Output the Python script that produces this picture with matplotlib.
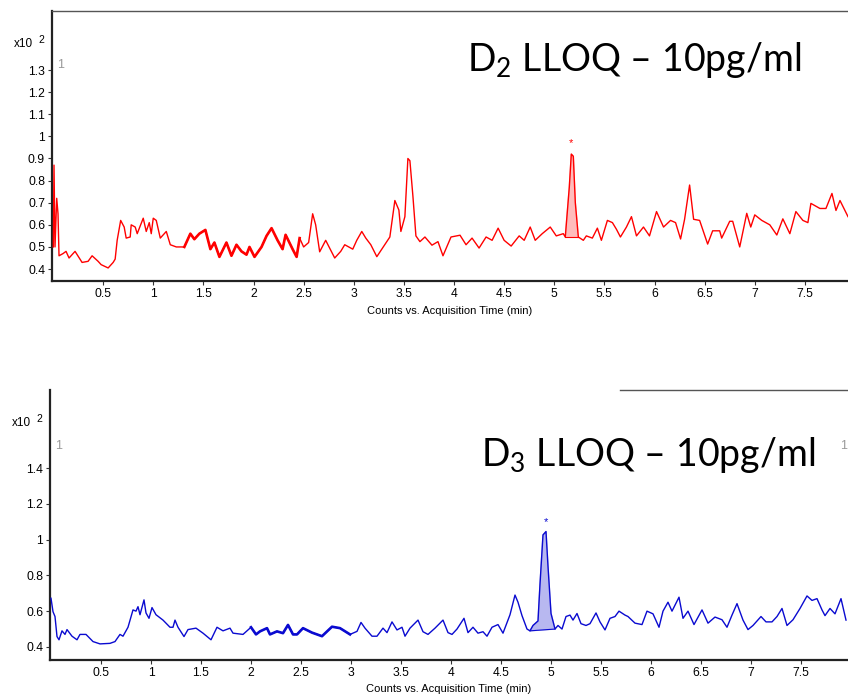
import numpy as np
import matplotlib
matplotlib.use("Agg")
import matplotlib.pyplot as plt
from matplotlib.ticker import FuncFormatter, FixedLocator

plt.rcParams['font.family'] = ['Liberation Sans', 'DejaVu Sans']
plt.rcParams['mathtext.fontset'] = 'custom'
plt.rcParams['mathtext.rm'] = 'Lato'

# D2 trace (counts x10^2 vs minutes)
t_d2 = [0.003, 0.01, 0.02, 0.037, 0.05, 0.06, 0.10, 0.13, 0.16, 0.22, 0.29, 0.35, 0.39, 0.45,
        0.48, 0.55, 0.60, 0.62, 0.64, 0.675, 0.71, 0.73, 0.77, 0.78, 0.82, 0.84, 0.90, 0.93,
        0.96, 0.98, 1.00, 1.03, 1.07, 1.13, 1.17, 1.23, 1.31, 1.37, 1.41, 1.46, 1.52, 1.57,
        1.61, 1.66, 1.73, 1.78, 1.83, 1.88, 1.93, 1.96, 2.01, 2.08, 2.13, 2.18, 2.24, 2.29,
        2.32, 2.39, 2.43, 2.46, 2.50, 2.55, 2.59, 2.62, 2.66, 2.72, 2.81, 2.87, 2.91, 2.99,
        3.03, 3.08, 3.12, 3.17, 3.23, 3.28, 3.33, 3.36, 3.41, 3.45, 3.47, 3.51, 3.54, 3.56,
        3.59, 3.62, 3.66, 3.71, 3.78, 3.84, 3.89, 3.97, 4.06, 4.12, 4.18, 4.25, 4.32, 4.38,
        4.44, 4.50, 4.57, 4.65, 4.70, 4.76, 4.81, 4.88, 4.96, 5.02, 5.09, 5.11, 5.15, 5.17,
        5.19, 5.21, 5.24, 5.29, 5.32, 5.38, 5.43, 5.47, 5.53, 5.58, 5.62, 5.66, 5.72, 5.77,
        5.82, 5.89, 5.95, 6.02, 6.09, 6.16, 6.21, 6.26, 6.30, 6.35, 6.39, 6.45, 6.53, 6.58,
        6.65, 6.67, 6.75, 6.78, 6.85, 6.92, 6.96, 7.00, 7.07, 7.15, 7.22, 7.28, 7.35, 7.41,
        7.48, 7.53, 7.56, 7.65, 7.71, 7.77, 7.81, 7.85, 7.93]
y_d2 = [0.50, 0.87, 0.50, 0.72, 0.65, 0.46, 0.47, 0.48, 0.45, 0.48, 0.43, 0.435, 0.46, 0.435,
        0.42, 0.405, 0.43, 0.445, 0.53, 0.62, 0.59, 0.54, 0.545, 0.60, 0.59, 0.56, 0.63, 0.57,
        0.61, 0.56, 0.63, 0.62, 0.54, 0.57, 0.51, 0.50, 0.50, 0.56, 0.535, 0.56, 0.577, 0.49,
        0.52, 0.455, 0.52, 0.46, 0.51, 0.48, 0.465, 0.50, 0.455, 0.50, 0.55, 0.585, 0.53, 0.49,
        0.555, 0.49, 0.455, 0.54, 0.50, 0.52, 0.65, 0.60, 0.478, 0.53, 0.45, 0.48, 0.51, 0.49,
        0.53, 0.57, 0.54, 0.51, 0.456, 0.49, 0.524, 0.545, 0.71, 0.667, 0.57, 0.637, 0.90, 0.89,
        0.73, 0.55, 0.524, 0.545, 0.508, 0.524, 0.46, 0.545, 0.553, 0.51, 0.54, 0.495, 0.545, 0.53,
        0.585, 0.53, 0.504, 0.55, 0.53, 0.59, 0.53, 0.56, 0.59, 0.55, 0.56, 0.545, 0.77, 0.92,
        0.91, 0.70, 0.545, 0.53, 0.55, 0.54, 0.585, 0.53, 0.62, 0.61, 0.58, 0.545, 0.59, 0.637,
        0.55, 0.59, 0.55, 0.66, 0.59, 0.62, 0.61, 0.536, 0.625, 0.78, 0.625, 0.62, 0.513, 0.573,
        0.573, 0.54, 0.616, 0.616, 0.50, 0.652, 0.59, 0.645, 0.62, 0.60, 0.554, 0.627, 0.56, 0.66,
        0.62, 0.61, 0.697, 0.674, 0.674, 0.742, 0.665, 0.71, 0.637]

# D3 trace
t_d3 = [0.00, 0.02, 0.04, 0.06, 0.08, 0.11, 0.14, 0.16, 0.21, 0.26, 0.29, 0.35, 0.42, 0.49,
        0.59, 0.64, 0.69, 0.72, 0.77, 0.82, 0.85, 0.87, 0.89, 0.93, 0.95, 0.98, 1.01, 1.05,
        1.12, 1.19, 1.22, 1.24, 1.27, 1.33, 1.37, 1.45, 1.52, 1.60, 1.66, 1.72, 1.79, 1.82,
        1.92, 2.00, 2.05, 2.09, 2.16, 2.19, 2.26, 2.32, 2.37, 2.42, 2.46, 2.52, 2.61, 2.71,
        2.81, 2.89, 2.99, 3.06, 3.10, 3.14, 3.21, 3.26, 3.32, 3.36, 3.41, 3.46, 3.51, 3.54,
        3.59, 3.67, 3.72, 3.77, 3.84, 3.92, 3.97, 4.01, 4.06, 4.13, 4.17, 4.22, 4.27, 4.32,
        4.36, 4.41, 4.47, 4.52, 4.59, 4.64, 4.67, 4.71, 4.76, 4.79, 4.82, 4.87, 4.89, 4.92,
        4.95, 4.97, 5.00, 5.04, 5.07, 5.11, 5.15, 5.19, 5.22, 5.26, 5.30, 5.35, 5.39, 5.45,
        5.49, 5.54, 5.59, 5.64, 5.68, 5.74, 5.77, 5.84, 5.91, 5.96, 6.02, 6.08, 6.12, 6.17,
        6.21, 6.28, 6.32, 6.37, 6.43, 6.51, 6.57, 6.64, 6.71, 6.76, 6.81, 6.86, 6.92, 6.97,
        7.02, 7.10, 7.15, 7.21, 7.26, 7.31, 7.36, 7.42, 7.49, 7.56, 7.61, 7.66, 7.71, 7.74,
        7.79, 7.84, 7.90, 7.95]
y_d3 = [0.672, 0.597, 0.57, 0.458, 0.44, 0.49, 0.47, 0.497, 0.46, 0.44, 0.47, 0.47, 0.43, 0.417,
        0.42, 0.43, 0.47, 0.46, 0.51, 0.607, 0.60, 0.625, 0.58, 0.663, 0.59, 0.56, 0.62, 0.58,
        0.55, 0.51, 0.51, 0.55, 0.51, 0.458, 0.497, 0.505, 0.477, 0.44, 0.51, 0.49, 0.505, 0.477,
        0.47, 0.51, 0.47, 0.487, 0.505, 0.47, 0.487, 0.477, 0.523, 0.47, 0.47, 0.505, 0.48, 0.46,
        0.513, 0.505, 0.47, 0.487, 0.537, 0.505, 0.46, 0.46, 0.505, 0.48, 0.54, 0.495, 0.51, 0.46,
        0.505, 0.55, 0.485, 0.47, 0.505, 0.55, 0.48, 0.47, 0.50, 0.56, 0.48, 0.51, 0.477, 0.485,
        0.46, 0.51, 0.525, 0.477, 0.58, 0.69, 0.65, 0.575, 0.50, 0.49, 0.52, 0.545, 0.75, 1.026,
        1.045, 0.85, 0.587, 0.50, 0.52, 0.50, 0.57, 0.578, 0.55, 0.587, 0.53, 0.52, 0.53, 0.59,
        0.54, 0.495, 0.56, 0.57, 0.60, 0.578, 0.57, 0.533, 0.525, 0.60, 0.585, 0.51, 0.60, 0.65,
        0.60, 0.678, 0.56, 0.60, 0.525, 0.607, 0.533, 0.567, 0.552, 0.51, 0.578, 0.642, 0.55, 0.497,
        0.52, 0.57, 0.54, 0.54, 0.57, 0.615, 0.52, 0.552, 0.615, 0.685, 0.66, 0.67, 0.607, 0.575,
        0.615, 0.585, 0.67, 0.55]

d2_peak = (5.11, 5.24)
d3_peak = (4.79, 5.04)
d2_noisy = (1.27, 2.46)
d3_noisy = (2.00, 3.00)
x_ticks = [0.5, 1, 1.5, 2, 2.5, 3, 3.5, 4, 4.5, 5, 5.5, 6, 6.5, 7, 7.5]
d2_yticks = [0.4, 0.5, 0.6, 0.7, 0.8, 0.9, 1.0, 1.1, 1.2, 1.3]
d3_yticks = [0.4, 0.6, 0.8, 1.0, 1.2, 1.4]


def fmt(v, pos):
    return '%g' % round(v, 2)


def draw_trace(ax, t, y, color, fill, peak, noisy):
    t = np.array(t)
    y = np.array(y)
    ax.plot(t, y, color=color, lw=1.0, zorder=3)
    m = (t >= noisy[0]) & (t <= noisy[1])
    ax.plot(t[m], y[m], color=color, lw=1.9, zorder=3)
    p = (t >= peak[0]) & (t <= peak[1])
    ax.fill(t[p], y[p], color=fill, zorder=2)
    ax.plot([t[p][0], t[p][-1]], [y[p][0], y[p][-1]], color=color, lw=0.8, zorder=3)
    imax = np.argmax(np.where(p, y, 0))
    return t[imax], y[imax]


def style_axes(ax, ylim, yticks, xlim):
    ax.set_xlim(*xlim)
    ax.set_ylim(*ylim)
    ax.xaxis.set_major_locator(FixedLocator(x_ticks))
    ax.yaxis.set_major_locator(FixedLocator(yticks))
    ax.xaxis.set_major_formatter(FuncFormatter(fmt))
    ax.yaxis.set_major_formatter(FuncFormatter(fmt))
    ax.tick_params(labelsize=8.7, length=3, width=0.8, direction='out', pad=2, colors='#333333',
                   labelcolor='black')
    ax.spines['right'].set_visible(False)
    for s in ['left', 'bottom']:
        ax.spines[s].set_color('#222222')
        ax.spines[s].set_linewidth(1.6)
    ax.set_xlabel('Counts vs. Acquisition Time (min)', fontsize=8, labelpad=4)


fig = plt.figure(figsize=(8.48, 6.94), dpi=100)

# top panel: D2
ax1 = fig.add_axes([52 / 848, 1 - 281 / 694, 796 / 848, 270 / 694])
style_axes(ax1, (0.346, 1.567), d2_yticks, (-0.01, 7.93))
ax1.spines['top'].set_color('#555555')
ax1.spines['top'].set_linewidth(1.0)
px, py = draw_trace(ax1, t_d2, y_d2, '#ff0000', '#ffbcbc', d2_peak, d2_noisy)
ax1.text(px, py + 0.025, '*', color='#ff0000', fontsize=8, ha='center', va='bottom')
ax1.text(0.006, 0.79, '1', transform=ax1.transAxes, color='#999999', fontsize=9)
fig.text(634 / 848, 1 - 60 / 694, r'D$_\mathrm{2}$ LLOQ – 10pg/ml', fontsize=27,
         family='Lato', ha='center', va='center')
fig.text(14 / 848, 1 - 44 / 694, 'x10', fontsize=8.5, va='center')
fig.text(38 / 848, 1 - 40 / 694, '2', fontsize=7.5, va='center')

# bottom panel: D3
ax2 = fig.add_axes([50 / 848, 1 - 660 / 694, 798 / 848, 270 / 694])
style_axes(ax2, (0.327, 1.836), d3_yticks, (-0.01, 7.97))
ax2.spines['top'].set_visible(False)
ax2.plot([0.714, 1.0], [1.0, 1.0], transform=ax2.transAxes, color='#555555', lw=1.0,
         clip_on=False)
px, py = draw_trace(ax2, t_d3, y_d3, '#0a0ad0', '#b8b8f0', d3_peak, d3_noisy)
ax2.text(px, py + 0.025, '*', color='#0a0ad0', fontsize=8, ha='center', va='bottom')
ax2.text(0.006, 0.78, '1', transform=ax2.transAxes, color='#999999', fontsize=9)
ax2.text(0.999, 0.78, '1', transform=ax2.transAxes, color='#999999', fontsize=9, ha='right')
fig.text(648 / 848, 1 - 455 / 694, r'D$_\mathrm{3}$ LLOQ – 10pg/ml', fontsize=27,
         family='Lato', ha='center', va='center')
fig.text(12 / 848, 1 - 423 / 694, 'x10', fontsize=8.5, va='center')
fig.text(36 / 848, 1 - 419 / 694, '2', fontsize=7.5, va='center')

fig.savefig('out.png', dpi=100)
